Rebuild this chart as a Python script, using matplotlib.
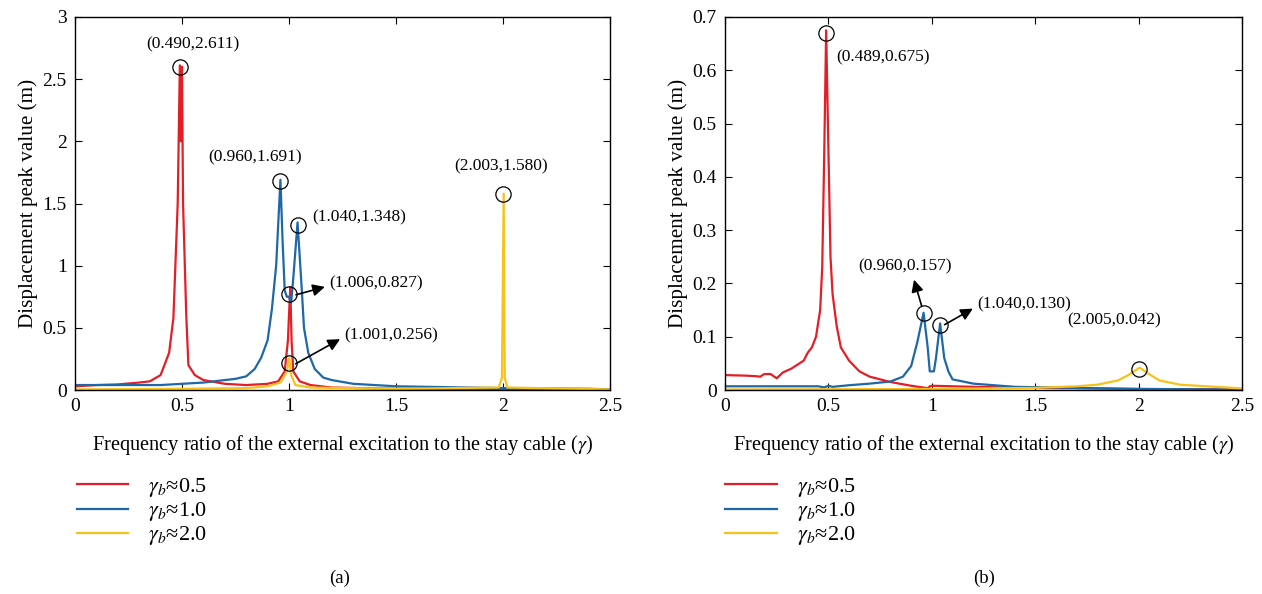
import matplotlib.pyplot as plt

plt.rcParams['font.family'] = ['Liberation Serif', 'DejaVu Serif']
plt.rcParams['mathtext.fontset'] = 'stix'

RED = '#e41e26'
BLUE = '#1f68a8'
YELLOW = '#f7c21a'

# ---- panel (a) ----
a_red_x = [0, 0.1, 0.2, 0.3, 0.35, 0.4, 0.44, 0.46, 0.48, 0.49, 0.495, 0.50, 0.505, 0.52, 0.53,
           0.56, 0.6, 0.7, 0.8, 0.9, 0.95, 0.98, 0.995, 1.0, 1.006, 1.012, 1.02, 1.05, 1.1, 1.2,
           1.5, 2.0, 2.5]
a_red_y = [0.03, 0.04, 0.045, 0.06, 0.07, 0.12, 0.3, 0.58, 1.5, 2.611, 2.0, 2.6, 1.5, 0.6, 0.2,
           0.12, 0.08, 0.05, 0.04, 0.05, 0.07, 0.15, 0.4, 0.6, 0.827, 0.4, 0.15, 0.07, 0.04, 0.02,
           0.01, 0.005, 0.003]
a_blue_x = [0, 0.2, 0.4, 0.5, 0.6, 0.7, 0.75, 0.8, 0.84, 0.87, 0.9, 0.92, 0.94, 0.96, 0.97, 0.98,
            0.99, 1.0, 1.01, 1.02, 1.04, 1.06, 1.07, 1.09, 1.12, 1.16, 1.2, 1.3, 1.5, 2.0, 2.4, 2.5]
a_blue_y = [0.04, 0.04, 0.04, 0.05, 0.06, 0.08, 0.09, 0.11, 0.17, 0.26, 0.4, 0.65, 1.0, 1.691, 1.2,
            0.8, 0.75, 0.75, 0.7, 0.9, 1.348, 0.8, 0.5, 0.3, 0.17, 0.1, 0.08, 0.05, 0.03, 0.015,
            0.01, 0.005]
a_yel_x = [0, 0.5, 0.8, 0.9, 0.96, 0.99, 1.001, 1.01, 1.03, 1.1, 1.5, 1.98, 1.995, 2.003, 2.008,
           2.02, 2.5]
a_yel_y = [0.005, 0.01, 0.015, 0.03, 0.06, 0.15, 0.256, 0.12, 0.04, 0.02, 0.01, 0.02, 0.1, 1.58, 0.1,
           0.02, 0.005]

# ---- panel (b) ----
b_red_x = [0, 0.1, 0.15, 0.17, 0.19, 0.22, 0.25, 0.28, 0.32, 0.36, 0.38, 0.4, 0.42, 0.44, 0.46, 0.47,
           0.48, 0.489, 0.5, 0.51, 0.52, 0.54, 0.56, 0.6, 0.65, 0.7, 0.8, 0.9, 0.97, 0.98, 0.99, 1.0,
           1.2, 1.5, 2.0, 2.5]
b_red_y = [0.028, 0.027, 0.026, 0.025, 0.03, 0.03, 0.022, 0.033, 0.04, 0.05, 0.055, 0.07, 0.08, 0.1,
           0.15, 0.23, 0.45, 0.675, 0.45, 0.25, 0.18, 0.12, 0.08, 0.055, 0.035, 0.025, 0.015, 0.008,
           0.004, 0.003, 0.007, 0.008, 0.006, 0.004, 0.002, 0.001]
b_blue_x = [0, 0.3, 0.45, 0.48, 0.5, 0.52, 0.6, 0.7, 0.8, 0.86, 0.9, 0.93, 0.96, 0.98, 0.99, 1.01,
            1.02, 1.04, 1.06, 1.08, 1.1, 1.2, 1.4, 1.7, 2.0, 2.5]
b_blue_y = [0.007, 0.007, 0.007, 0.005, 0.008, 0.006, 0.009, 0.012, 0.016, 0.025, 0.045, 0.09, 0.145,
            0.08, 0.035, 0.035, 0.06, 0.125, 0.06, 0.035, 0.02, 0.012, 0.006, 0.004, 0.002, 0.001]
b_yel_x = [0, 1.0, 1.5, 1.7, 1.8, 1.9, 1.95, 2.005, 2.05, 2.1, 2.2, 2.5]
b_yel_y = [0.001, 0.002, 0.004, 0.007, 0.01, 0.018, 0.028, 0.042, 0.03, 0.018, 0.01, 0.003]

legend_labels = [r'$\gamma_b$≈0.5', r'$\gamma_b$≈1.0', r'$\gamma_b$≈2.0']

# circles: (x, y) positions of markers
a_circles = [(0.49, 2.6), (0.96, 1.68), (1.04, 1.33), (1.0, 0.77), (1.0, 0.22), (2.0, 1.58)]
b_circles = [(0.489, 0.67), (0.96, 0.145), (1.04, 0.122), (2.0, 0.04)]

# annotations: text, text position, ha, arrow start (or None)
a_notes = [('(0.490,2.611)', (0.55, 2.78), 'center', None),
           ('(0.960,1.691)', (0.84, 1.87), 'center', None),
           ('(2.003,1.580)', (1.99, 1.80), 'center', None),
           ('(1.040,1.348)', (1.11, 1.39), 'left', None),
           ('(1.006,0.827)', (1.19, 0.855), 'left', (1.02, 0.76)),
           ('(1.001,0.256)', (1.26, 0.44), 'left', (1.02, 0.2))]
b_notes = [('(0.489,0.675)', (0.54, 0.625), 'left', None),
           ('(0.960,0.157)', (0.87, 0.232), 'center', (0.955, 0.152)),
           ('(1.040,0.130)', (1.22, 0.16), 'left', (1.05, 0.12)),
           ('(2.005,0.042)', (1.88, 0.131), 'center', None)]

fig = plt.figure(figsize=(12.62, 5.94), dpi=100)
ax1 = fig.add_axes([0.0594, 0.3434, 0.4240, 0.628])
ax2 = fig.add_axes([0.5745, 0.3434, 0.4097, 0.628])


def draw(ax, red, blue, yel, circles, notes, ymax, yticks, ytl):
    l1, = ax.plot(red[0], red[1], color=RED, lw=1.6)
    l2, = ax.plot(blue[0], blue[1], color=BLUE, lw=1.6)
    l3, = ax.plot(yel[0], yel[1], color=YELLOW, lw=1.6)
    cx = [c[0] for c in circles]
    cy = [c[1] for c in circles]
    ax.plot(cx, cy, 'o', mfc='none', mec='black', ms=11, mew=0.9)
    for txt, pos, ha, start in notes:
        ax.text(pos[0], pos[1], txt, ha=ha, va='center', fontsize=12.5)
        if start is not None:
            if ha == 'left':
                tip = (pos[0] - 0.01, pos[1] - 0.02 * ymax / 3)
            else:
                tip = (pos[0] + 0.04, pos[1] - 0.02)
            ax.annotate('', xy=tip, xytext=start,
                        arrowprops=dict(arrowstyle='-|>', color='black', lw=1.2,
                                        mutation_scale=18))
    ax.set_xlim(0, 2.5)
    ax.set_ylim(0, ymax)
    ax.set_xticks([0, 0.5, 1, 1.5, 2, 2.5])
    ax.set_xticklabels(['0', '0.5', '1', '1.5', '2', '2.5'])
    ax.set_yticks(yticks)
    ax.set_yticklabels(ytl)
    ax.tick_params(direction='in', top=True, right=True, labelsize=14, length=5, pad=6)
    ax.set_xlabel(r'Frequency ratio of the external excitation to the stay cable ($\gamma$)',
                  fontsize=14.7, labelpad=13)
    ax.set_ylabel('Displacement peak value (m)', fontsize=15.2, labelpad=3)
    for s in ax.spines.values():
        s.set_linewidth(1.0)
    return [l1, l2, l3]


h1 = draw(ax1, (a_red_x, a_red_y), (a_blue_x, a_blue_y), (a_yel_x, a_yel_y), a_circles, a_notes,
          3, [0, 0.5, 1, 1.5, 2, 2.5, 3], ['0', '0.5', '1', '1.5', '2', '2.5', '3'])
h2 = draw(ax2, (b_red_x, b_red_y), (b_blue_x, b_blue_y), (b_yel_x, b_yel_y), b_circles, b_notes,
          0.7, [0, 0.1, 0.2, 0.3, 0.4, 0.5, 0.6, 0.7],
          ['0', '0.1', '0.2', '0.3', '0.4', '0.5', '0.6', '0.7'])

for h, x0 in [(h1, 0.045), (h2, 0.559)]:
    fig.legend(h, legend_labels, loc='upper left', bbox_to_anchor=(x0, 0.232), frameon=False,
               fontsize=16, handlelength=2.3, handletextpad=0.9, labelspacing=0.05)

fig.text(0.269, 0.027, '(a)', ha='center', va='center', fontsize=13.5)
fig.text(0.780, 0.027, '(b)', ha='center', va='center', fontsize=13.5)

fig.savefig('out.png', dpi=100)
